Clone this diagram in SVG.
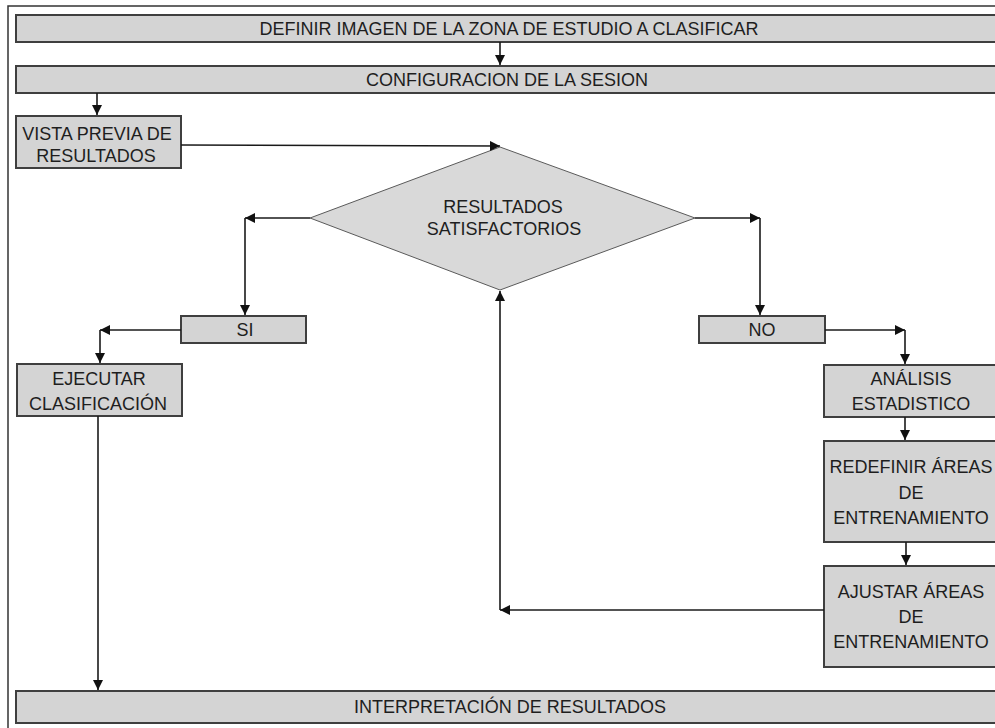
<svg xmlns="http://www.w3.org/2000/svg" width="995" height="728" viewBox="0 0 995 728">
<defs>
<style>
.box{fill:#d4d4d4;stroke:#3f3f3f;stroke-width:2}
.dia{fill:#d9d9d9;stroke:#5a5a5a;stroke-width:1}
.t{font-family:"Liberation Sans",Arial,sans-serif;font-size:18px;fill:#1e1e1e;text-anchor:middle}
.c{fill:none;stroke:#1a1a1a;stroke-width:1.6}
</style>
<marker id="ah" viewBox="0 0 10 10" markerWidth="11" markerHeight="10" refX="10" refY="5" orient="auto" markerUnits="userSpaceOnUse">
<path d="M0,0 L10,5 L0,10 z" fill="#111"/>
</marker>
</defs>
<rect width="995" height="728" fill="#fff"/>
<path d="M8,728 L8,6 L995,6" fill="none" stroke="#333" stroke-width="1.5"/>

<g id="n-definir"><rect class="box" x="16" y="15" width="985" height="27"/><text class="t" x="509" y="35">DEFINIR IMAGEN DE LA ZONA DE ESTUDIO A CLASIFICAR</text></g>
<g id="n-config"><rect class="box" x="16" y="66" width="985" height="27"/><text class="t" x="507" y="86">CONFIGURACION DE LA SESION</text></g>
<g id="n-vista"><rect class="box" x="16" y="116" width="165" height="52"/><text class="t" x="97" y="140">VISTA PREVIA DE</text><text class="t" x="96" y="162">RESULTADOS</text></g>
<g id="n-decision"><polygon class="dia" points="500,147 695,218 500,290 310,218"/><text class="t" x="503" y="213">RESULTADOS</text><text class="t" x="504" y="235">SATISFACTORIOS</text></g>
<g id="n-si"><rect class="box" x="181" y="316" width="125" height="27"/><text class="t" x="245" y="336">SI</text></g>
<g id="n-no"><rect class="box" x="699" y="316" width="126" height="27"/><text class="t" x="762" y="336">NO</text></g>
<g id="n-ejecutar"><rect class="box" x="17" y="364" width="165" height="52"/><text class="t" x="99" y="385">EJECUTAR</text><text class="t" x="98" y="410">CLASIFICACIÓN</text></g>
<g id="n-analisis"><rect class="box" x="824" y="365" width="180" height="52"/><text class="t" x="911" y="385">ANÁLISIS</text><text class="t" x="911" y="410">ESTADISTICO</text></g>
<g id="n-redefinir"><rect class="box" x="824" y="441" width="180" height="101"/><text class="t" x="911" y="473">REDEFINIR ÁREAS</text><text class="t" x="911" y="499">DE</text><text class="t" x="911" y="524">ENTRENAMIENTO</text></g>
<g id="n-ajustar"><rect class="box" x="824" y="566" width="180" height="101"/><text class="t" x="911" y="598">AJUSTAR ÁREAS</text><text class="t" x="911" y="623">DE</text><text class="t" x="911" y="648">ENTRENAMIENTO</text></g>
<g id="n-interp"><rect class="box" x="16" y="691" width="985" height="32"/><text class="t" x="510" y="713">INTERPRETACIÓN DE RESULTADOS</text></g>

<g id="connectors">
<path class="c" d="M500,42 L500,65" marker-end="url(#ah)"/>
<path class="c" d="M97,93 L97,115" marker-end="url(#ah)"/>
<path class="c" d="M181,145 L500,146" marker-end="url(#ah)"/>
<path class="c" d="M310,218 L245,218" marker-end="url(#ah)"/>
<path class="c" d="M245,218 L245,315" marker-end="url(#ah)"/>
<path class="c" d="M181,330 L100,330" marker-end="url(#ah)"/>
<path class="c" d="M100,330 L100,363" marker-end="url(#ah)"/>
<path class="c" d="M98,416 L98,690" marker-end="url(#ah)"/>
<path class="c" d="M695,218 L760,218" marker-end="url(#ah)"/>
<path class="c" d="M760,218 L760,315" marker-end="url(#ah)"/>
<path class="c" d="M825,330 L905,330" marker-end="url(#ah)"/>
<path class="c" d="M905,330 L905,364" marker-end="url(#ah)"/>
<path class="c" d="M905,417 L905,440" marker-end="url(#ah)"/>
<path class="c" d="M906,542 L906,565" marker-end="url(#ah)"/>
<path class="c" d="M824,610 L500,610" marker-end="url(#ah)"/>
<path class="c" d="M500,610 L500,291" marker-end="url(#ah)"/>
</g>
</svg>
